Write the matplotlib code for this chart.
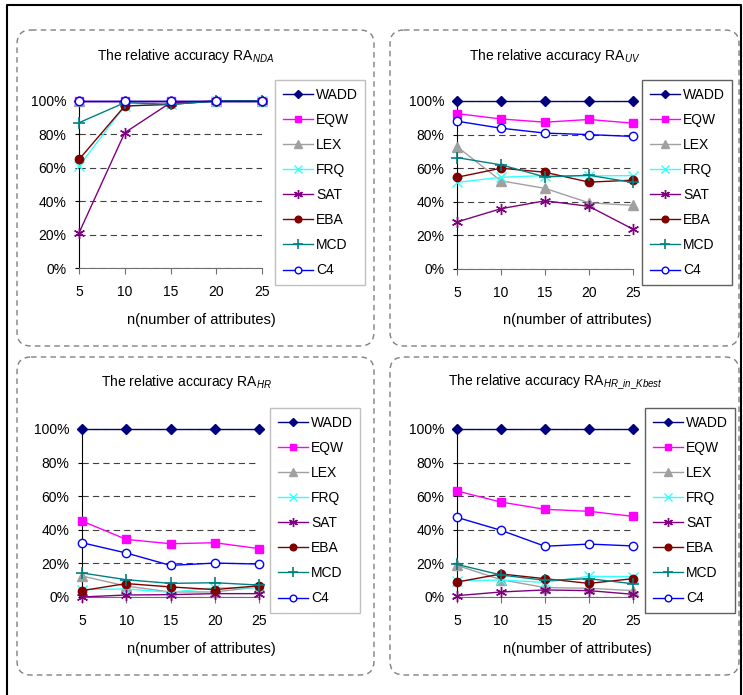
import matplotlib
matplotlib.use('Agg')
import matplotlib.pyplot as plt
from matplotlib.patches import FancyBboxPatch
from matplotlib.ticker import FuncFormatter

plt.rcParams['font.family'] = ['Liberation Sans', 'DejaVu Sans']
plt.rcParams['mathtext.fontset'] = 'custom'
plt.rcParams['mathtext.rm'] = 'Liberation Sans'
plt.rcParams['mathtext.it'] = 'Liberation Sans:italic'
plt.rcParams['lines.scale_dashes'] = False

# x values and series names
n_attr = [5, 10, 15, 20, 25]
methods = ['WADD', 'EQW', 'LEX', 'FRQ', 'SAT', 'EBA', 'MCD', 'C4']

# RA_NDA (%)
nda_wadd = [100, 100, 100, 100, 100]
nda_eqw = [100, 100, 100, 100, 100]
nda_lex = [100, 100, 100, 100, 100]
nda_frq = [61, 97, 98, 100, 100]
nda_sat = [21, 81, 99, 100, 100]
nda_eba = [65, 97, 98, 100, 100]
nda_mcd = [87, 99, 98, 100, 100]
nda_c4 = [100, 100, 100, 100, 100]

# RA_UV (%)
uv_wadd = [100, 100, 100, 100, 100]
uv_eqw = [92.5, 89.3, 87.4, 89, 86.8]
uv_lex = [72.8, 52.5, 48, 39.4, 37.9]
uv_frq = [51.5, 54.6, 55.6, 55.4, 55.6]
uv_sat = [28, 35.9, 40.6, 37.3, 23.7]
uv_eba = [54.6, 60, 57.6, 51.7, 52.9]
uv_mcd = [66.3, 62, 54.8, 55.8, 51.5]
uv_c4 = [88, 83.8, 80.9, 80, 78.9]

# RA_HR (%)
hr_wadd = [100, 100, 100, 100, 100]
hr_eqw = [45.2, 34.3, 31.7, 32.3, 28.8]
hr_lex = [12.5, 6.5, 3, 3, 6]
hr_frq = [4.4, 4.8, 2.8, 5.5, 5.5]
hr_sat = [0, 1.2, 1.4, 2, 2]
hr_eba = [3.8, 8, 6, 4.4, 6.7]
hr_mcd = [14.3, 10.3, 8.1, 8.5, 7.1]
hr_c4 = [32.3, 26.2, 18.8, 20.2, 19.6]

# RA_HR_in_Kbest (%)
kb_wadd = [100, 100, 100, 100, 100]
kb_eqw = [63.1, 56.5, 52.2, 51, 48]
kb_lex = [18.8, 10.3, 5.6, 5.2, 3.8]
kb_frq = [9.7, 10.1, 8.7, 12.3, 12.1]
kb_sat = [0.8, 3, 4.2, 3.8, 1.6]
kb_eba = [8.9, 13.7, 10.9, 8.1, 10.9]
kb_mcd = [19.4, 13.1, 9.9, 10.9, 7.9]
kb_c4 = [47.4, 39.7, 30.2, 31.5, 30.4]

styles = {
    'WADD': dict(color='#000080', marker='D', ms=5),
    'EQW': dict(color='#FF00FF', marker='s', ms=6),
    'LEX': dict(color='#A0A0A0', marker='^', ms=7),
    'FRQ': dict(color='#33FFFF', marker='x', ms=7, mew=1),
    'SAT': dict(color='#800080', marker=(6, 2, 0), ms=8, mew=1),
    'EBA': dict(color='#800000', marker='o', ms=6),
    'MCD': dict(color='#008080', marker='+', ms=9, mew=1.2),
    'C4': dict(color='#0000FF', marker='o', ms=6, mfc='white', mew=1),
}

W, H = 743, 695
fig = plt.figure(figsize=(W / 100, H / 100), dpi=100)
bg = fig.add_axes([0, 0, 1, 1], zorder=0)
bg.set_xlim(0, W)
bg.set_ylim(H, 0)
bg.axis('off')

# outer frame
bg.plot([7, 7, 741, 741], [H, 5, 5, H], color='black', lw=1.5)

# dashed rounded boxes around each chart
for x0, y0, x1, y1 in [(17, 30, 374, 346), (390, 30, 739, 346),
                       (17, 357, 374, 675), (390, 357, 739, 675)]:
    bg.add_patch(FancyBboxPatch((x0, y0), x1 - x0, y1 - y0,
                                boxstyle='round,pad=0,rounding_size=14',
                                fill=False, ec='#808080', lw=1,
                                ls=(0, (4, 3))))


def panel(rect, data, title, tpos, xlpos, legpos, legec):
    x0, y0, x1, y1 = rect
    ax = fig.add_axes([x0 / W, 1 - y1 / H, (x1 - x0) / W, (y1 - y0) / H],
                      zorder=2)
    ax.set_facecolor('none')
    for name, vals in zip(methods, data):
        ax.plot(n_attr, vals, label=name, lw=1, clip_on=False, zorder=3,
                **styles[name])
    ax.set_xlim(5, 25)
    ax.set_ylim(0, 100)
    ax.set_xticks(n_attr)
    ax.set_yticks(range(0, 101, 20))
    ax.yaxis.set_major_formatter(FuncFormatter(lambda v, p: f'{v:.0f}%'))
    ax.yaxis.grid(True, color='#404040', lw=0.8, ls=(0, (4.5, 3)))
    ax.set_axisbelow(True)
    for s in ['top', 'right']:
        ax.spines[s].set_visible(False)
    ax.spines['left'].set_color('black')
    ax.spines['bottom'].set_color('#707070')
    ax.tick_params(axis='y', direction='out', length=3, pad=6, labelsize=10)
    ax.tick_params(axis='x', direction='out', length=4, pad=8, labelsize=10,
                   color='#707070')
    bg.text(tpos[0], tpos[1], title, ha='center', va='center', fontsize=10)
    bg.text(xlpos[0], xlpos[1], 'n(number of attributes)', ha='center',
            va='center', fontsize=10.5)
    leg = ax.legend(loc='upper left', bbox_to_anchor=legpos,
                    bbox_transform=bg.transData, borderaxespad=0,
                    fontsize=10, labelspacing=0.8, handlelength=2.2,
                    handletextpad=0.2, borderpad=0.55, fancybox=False,
                    edgecolor=legec, framealpha=1, markerscale=0.8)
    leg.get_frame().set_linewidth(1)
    return ax


panel((79, 101, 262, 268),
      [nda_wadd, nda_eqw, nda_lex, nda_frq, nda_sat, nda_eba, nda_mcd, nda_c4],
      r'The relative accuracy RA$_{\mathit{NDA}}$', (186, 56), (201, 320),
      (275, 80), '#C0C0C0')
panel((457, 101, 633, 269),
      [uv_wadd, uv_eqw, uv_lex, uv_frq, uv_sat, uv_eba, uv_mcd, uv_c4],
      r'The relative accuracy RA$_{\mathit{UV}}$', (555, 56), (577, 320),
      (642, 80), '#606060')
panel((82, 429, 259, 597),
      [hr_wadd, hr_eqw, hr_lex, hr_frq, hr_sat, hr_eba, hr_mcd, hr_c4],
      r'The relative accuracy RA$_{\mathit{HR}}$', (186, 382), (201, 649),
      (270, 408), '#C0C0C0')
panel((457, 429, 633, 597),
      [kb_wadd, kb_eqw, kb_lex, kb_frq, kb_sat, kb_eba, kb_mcd, kb_c4],
      r'The relative accuracy RA$_{\mathit{HR\_in\_Kbest}}$', (555, 382),
      (577, 649), (645, 408), '#606060')

fig.savefig('out.png', dpi=100)
